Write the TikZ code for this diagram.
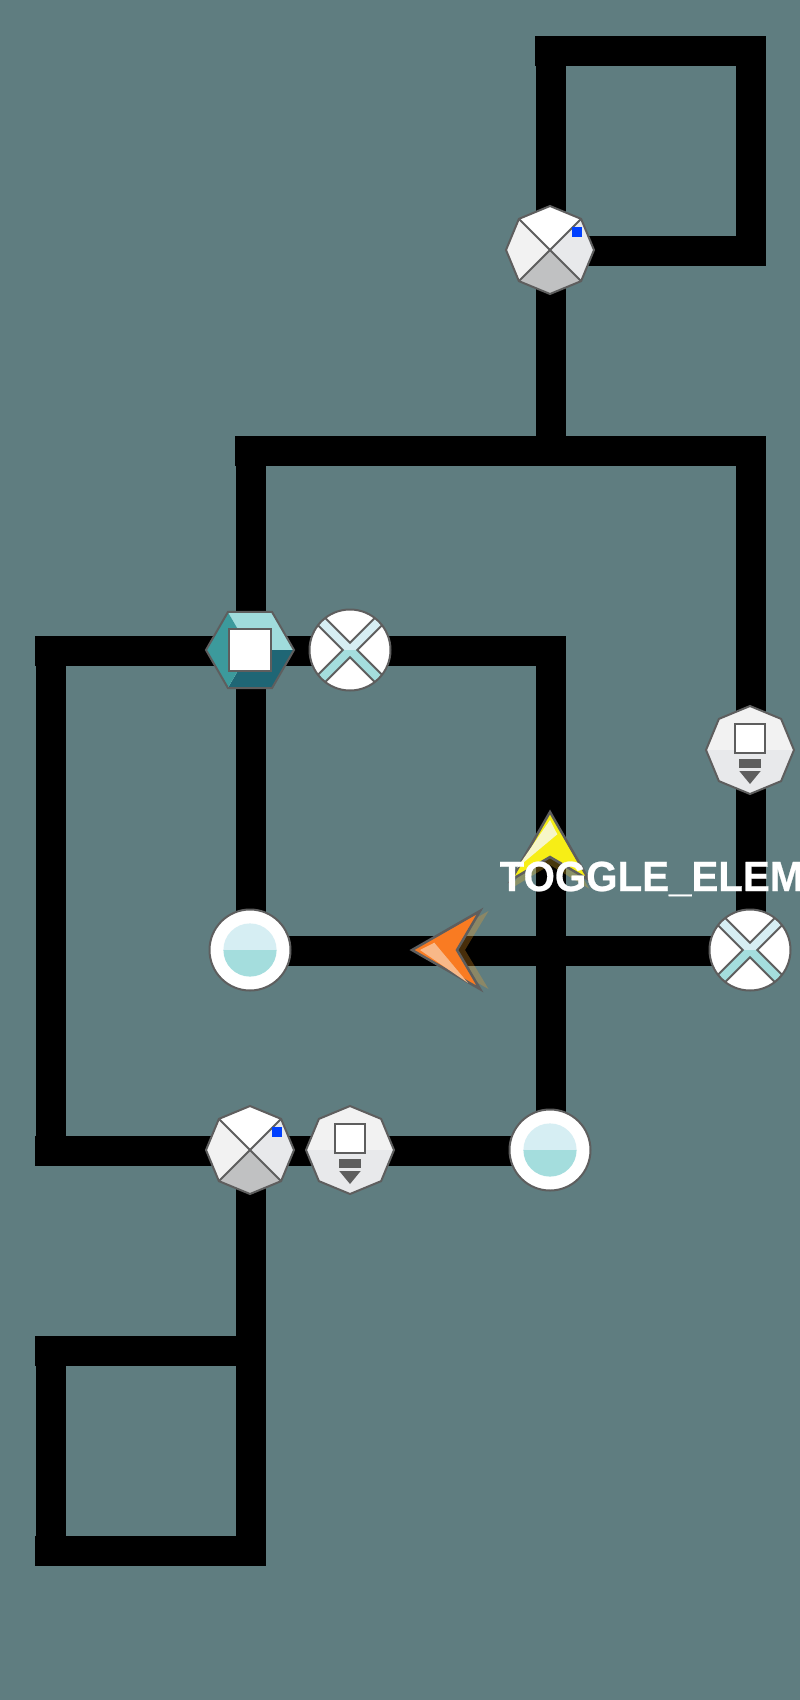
\documentclass[tikz,border=0pt]{standalone}
\usepackage{fontspec}
\setmainfont{Liberation Sans}
\newfontface\labelfont[UprightFont=* Bold, FakeStretch=0.955, FakeBold=0.6]{Liberation Sans}
\usepackage{tikz}
\usetikzlibrary{shapes.geometric, backgrounds}

\definecolor{bgteal}{HTML}{5F7D80}
\definecolor{edgegray}{HTML}{5E5E5E}
\definecolor{palecyan}{HTML}{D6EEF3}
\definecolor{midcyan}{HTML}{A4DDDD}
\definecolor{hexlight}{HTML}{A0DCDC}
\definecolor{hexmid}{HTML}{3C9A9C}
\definecolor{hexdark}{HTML}{1F6675}
\definecolor{grayone}{HTML}{F2F2F2}
\definecolor{graytwo}{HTML}{E8E9EB}
\definecolor{graythree}{HTML}{C0C1C2}
\definecolor{markerblue}{HTML}{0040FF}
\definecolor{agentyellow}{HTML}{F7EE16}
\definecolor{agentyellowpale}{HTML}{F7F6C8}
\definecolor{agentyellowshade}{HTML}{FFC828}
\definecolor{agentorange}{HTML}{F97B22}
\definecolor{agentorangepale}{HTML}{F8B888}
\definecolor{agentorangeshade}{HTML}{FFA424}

\begin{document}
\begin{tikzpicture}[
    belt/.style={line width=3mm, line cap=rect, line join=miter, draw=black},
    icon/.style={draw=edgegray, line width=0.2mm, fill=white, inner sep=0pt, outer sep=0pt},
    inner/.style={draw=edgegray, line width=0.2mm},
    local/.style={shift={(path picture bounding box.center)}, x=0.1mm, y=0.1mm},
    roundel/.style={icon, circle, minimum size=8.1mm, path picture={
        \begin{scope}[local]
            \fill[palecyan] (-26.6,0) arc (180:0:26.6) -- cycle;
            \fill[midcyan] (-26.6,0) arc (180:360:26.6) -- cycle;
        \end{scope}}},
    crossing/.style={icon, circle, minimum size=8.1mm, path picture={
        \begin{scope}[local]
            \fill[palecyan] (-7.3,0) -- (-52.3,45) -- (-45,52.3) -- (0,7.3) -- (45,52.3) -- (52.3,45) -- (7.3,0) -- cycle;
            \fill[midcyan] (-7.3,0) -- (-52.3,-45) -- (-45,-52.3) -- (0,-7.3) -- (45,-52.3) -- (52.3,-45) -- (7.3,0) -- cycle;
            \draw[inner] (-45,52.3) -- (0,7.3) -- (45,52.3);
            \draw[inner] (-45,-52.3) -- (0,-7.3) -- (45,-52.3);
            \draw[inner] (-52.3,45) -- (-7.3,0) -- (-52.3,-45);
            \draw[inner] (52.3,45) -- (7.3,0) -- (52.3,-45);
        \end{scope}}},
    junction/.style={icon, regular polygon, regular polygon sides=8, shape border rotate=22.5, minimum size=8.8mm, path picture={
        \begin{scope}[local]
            \fill[white] (0,0) -- (-50,50) -- (50,50) -- cycle;
            \fill[graytwo] (0,0) -- (50,50) -- (50,-50) -- cycle;
            \fill[grayone] (0,0) -- (-50,50) -- (-50,-50) -- cycle;
            \fill[graythree] (0,0) -- (-50,-50) -- (50,-50) -- cycle;
            \draw[inner] (-31.1,31.1) -- (31.1,-31.1);
            \draw[inner] (-31.1,-31.1) -- (31.1,31.1);
            \fill[markerblue] (21.7,13) rectangle (31.7,23);
        \end{scope}}},
    press/.style={icon, regular polygon, regular polygon sides=8, shape border rotate=22.5, minimum size=8.8mm, path picture={
        \begin{scope}[local]
            \fill[grayone] (-50,0) rectangle (50,50);
            \fill[graytwo] (-50,0) rectangle (50,-50);
            \draw[inner, fill=white] (-15,-3.3) rectangle (15,26);
            \fill[edgegray] (-10.7,-9) rectangle (10.7,-18);
            \fill[edgegray] (-10.7,-21) -- (10.7,-21) -- (0,-34) -- cycle;
        \end{scope}}},
    storage/.style={icon, regular polygon, regular polygon sides=6, minimum size=8.8mm, path picture={
        \begin{scope}[local]
            \fill[hexlight] (0,0) -- (60,0) -- (60,60) -- (-35,60) -- cycle;
            \fill[hexdark] (0,0) -- (60,0) -- (60,-60) -- (-35,-60) -- cycle;
            \fill[hexmid] (0,0) -- (-35,60) -- (-60,60) -- (-60,-60) -- (-35,-60) -- cycle;
            \draw[inner, fill=white] (-21,-21) rectangle (21,21);
        \end{scope}}},
    agent/.pic={
        \begin{scope}[x=0.1mm, y=0.1mm]
            \fill[#1shade, opacity=0.28] (0,30) -- (-39,-38.5) -- (0,-15) -- (39,-38.5) -- cycle;
            \draw[edgegray, line width=0.25mm, line join=miter, fill=#1] (0,38) -- (-39,-30) -- (0,-7) -- (39,-30) -- cycle;
            \fill[#1pale] (0,30) -- (7.3,15.7) -- (-33,-18) -- cycle;
        \end{scope}},
]

\useasboundingbox (0,0) rectangle (8,-17);

% Top loop
\node[junction] (topjunction) at (5.5,-2.5) {};
\coordinate (topleft) at (5.5,-0.5);
\coordinate (topright) at (7.5,-0.5);
\coordinate (loopright) at (7.5,-2.5);

% Upper rail
\coordinate (railmid) at (5.5,-4.5);
\coordinate (railleft) at (2.5,-4.5);
\coordinate (railright) at (7.5,-4.5);

% Middle row
\node[storage] (hexstore) at (2.5,-6.5) {};
\node[crossing] (crossone) at (3.5,-6.5) {};
\coordinate (midleft) at (0.5,-6.5);
\coordinate (midright) at (5.5,-6.5);
\node[press] (pressright) at (7.5,-7.5) {};
\node[roundel] (roundone) at (2.5,-9.5) {};
\node[crossing] (crosstwo) at (7.5,-9.5) {};

% Lower row
\node[junction] (lowjunction) at (2.5,-11.5) {};
\node[press] (pressleft) at (3.5,-11.5) {};
\node[roundel] (roundtwo) at (5.5,-11.5) {};
\coordinate (lowleft) at (0.5,-11.5);

% Bottom loop
\coordinate (loopa) at (2.5,-13.5);
\coordinate (loopb) at (0.5,-13.5);
\coordinate (loopc) at (0.5,-15.5);
\coordinate (loopd) at (2.5,-15.5);

\begin{pgfonlayer}{background}
    \fill[bgteal] (0,0) rectangle (8,-17);
    \begin{scope}[transform canvas={shift={(0.01,-0.01)}}]
        % vertical runs
        \draw[belt] (topleft) -- (railmid);
        \draw[belt] (topright) -- (loopright);
        \draw[belt] (railleft) -- (roundone.center);
        \draw[belt] (lowjunction.center) -- (loopd);
        \draw[belt] (railright) -- (crosstwo.center);
        \draw[belt] (midright) -- (roundtwo.center);
        \draw[belt] (midleft) -- (lowleft);
        \draw[belt] (loopb) -- (loopc);
        % horizontal runs
        \draw[belt] ([xshift=-0.1mm]topleft) -- (topright);
        \draw[belt] (topjunction.center) -- (loopright);
        \draw[belt] ([xshift=-0.1mm]railleft) -- (railright);
        \draw[belt] ([xshift=-0.1mm]midleft) -- (midright);
        \draw[belt] (roundone.center) -- (crosstwo.center);
        \draw[belt] ([xshift=-0.1mm]lowleft) -- (roundtwo.center);
        \draw[belt] ([xshift=-0.1mm]loopb) -- (loopa);
        \draw[belt] ([xshift=-0.1mm]loopc) -- (loopd);
    \end{scope}
\end{pgfonlayer}

% Agents
\pic[rotate=0] (yellowagent) at (5.5,-8.5) {agent={agentyellow}};
\pic[rotate=90] (orangeagent) at (4.5,-9.5) {agent={agentorange}};

\node[anchor=base west, inner sep=0pt, text=white, font=\labelfont\fontsize{12pt}{14pt}\selectfont] (togglelabel) at (4.99,-8.91) {TOGGLE\_ELEM};

\end{tikzpicture}
\end{document}
